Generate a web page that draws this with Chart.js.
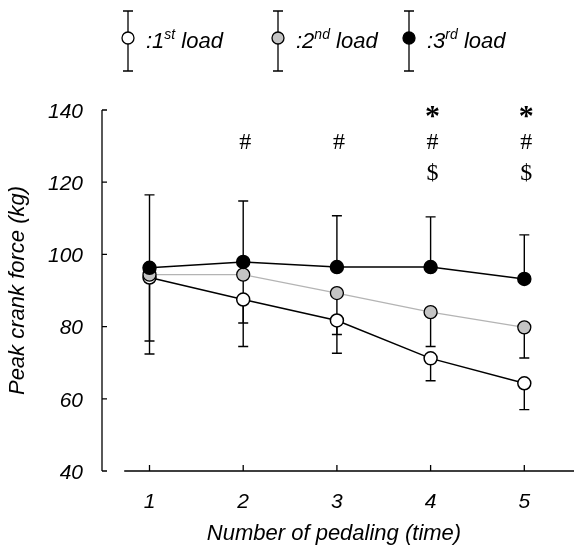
<!DOCTYPE html>
<html>
<head>
<meta charset="utf-8">
<script src="https://cdn.jsdelivr.net/npm/chart.js@4.4.0/dist/chart.umd.min.js"></script>
<style>
  html, body { margin: 0; padding: 0; background: #fff; }
  #wrap { width: 574px; height: 549px; }
</style>
</head>
<body>
<div id="wrap"><canvas id="chart"></canvas></div>
<script>
// x categories and y ticks
const pedalings = [1, 2, 3, 4, 5];
const yTicks = [40, 60, 80, 100, 120, 140];

// means and SD
const load1 = [93.6, 87.5, 81.7, 71.2, 64.3];
const load1Sd = [21.2, 13.0, 3.9, 6.2, 7.3];     // bars go down
const load2 = [94.4, 94.4, 89.3, 84.0, 79.8];
const load2Sd = [18.4, 13.4, 16.7, 9.5, 8.5];    // bars go down
const load3 = [96.3, 97.9, 96.5, 96.5, 93.2];
const load3Sd = [20.2, 16.9, 14.2, 13.9, 12.2];  // bars go up

// significance marks per pedaling ('*' row 0, '#' row 1, '$' row 2)
const sigMarks = ['', '#', '#', '*#$', '*#$'];
const sigRows = { '*': 0, '#': 1, '$': 2 };

const ordinals = ['st', 'nd', 'rd'];
const legendFills = ['#ffffff', '#c4c4c4', '#000000'];

const pts = arr => arr.map((v, i) => ({ x: pedalings[i], y: v }));

const figurePlugin = {
    id: 'figure',
    beforeDatasetsDraw(chart) {
        const { ctx } = chart;
        const xs = chart.scales.x, ys = chart.scales.y;
        ctx.save();
        ctx.strokeStyle = '#000';
        ctx.lineWidth = 1.4;
        chart.data.datasets.forEach(ds => {
            ds.sd.forEach((sd, i) => {
                const x = xs.getPixelForValue(pedalings[i]);
                const y0 = ys.getPixelForValue(ds.data[i].y);
                const y1 = ys.getPixelForValue(ds.data[i].y + ds.dir * sd);
                ctx.beginPath();
                ctx.moveTo(x, y0);
                ctx.lineTo(x, y1);
                ctx.moveTo(x - 5, y1);
                ctx.lineTo(x + 5, y1);
                ctx.stroke();
            });
        });
        ctx.restore();
    },
    afterDraw(chart) {
        const { ctx, chartArea } = chart;
        const xs = chart.scales.x, ys = chart.scales.y;
        ctx.save();
        ctx.strokeStyle = '#000';
        ctx.lineWidth = 1.3;

        // y axis with inward ticks
        ctx.beginPath();
        ctx.moveTo(chartArea.left, chartArea.top);
        ctx.lineTo(chartArea.left, chartArea.bottom);
        yTicks.forEach(v => {
            const y = ys.getPixelForValue(v);
            ctx.moveTo(chartArea.left, y);
            ctx.lineTo(chartArea.left + 5, y);
        });
        // x axis (detached from y axis) with upward ticks
        ctx.moveTo(xs.getPixelForValue(0.73), chartArea.bottom);
        ctx.lineTo(chart.width, chartArea.bottom);
        pedalings.forEach(p => {
            const x = xs.getPixelForValue(p);
            ctx.moveTo(x, chartArea.bottom);
            ctx.lineTo(x, chartArea.bottom - 6);
        });
        ctx.stroke();

        // significance marks
        ctx.fillStyle = '#000';
        ctx.textAlign = 'center';
        ctx.textBaseline = 'middle';
        const rowY = [chartArea.top + 4, chartArea.top + 33, chartArea.top + 64];
        sigMarks.forEach((marks, i) => {
            const x = xs.getPixelForValue(pedalings[i]) + 2;
            for (const m of marks) {
                ctx.font = m === '*'
                    ? 'bold 30px "Liberation Serif", "Times New Roman", serif'
                    : '24px "Liberation Serif", "Times New Roman", serif';
                ctx.fillText(m, x, rowY[sigRows[m]] + (m === '*' ? 3 : 0));
            }
        });

        // legend with error bar symbols
        const legendX = [128, 278, 409];
        const barTop = 11, barBottom = 71, midY = 38;
        legendX.forEach((lx, i) => {
            ctx.beginPath();
            ctx.moveTo(lx, barTop);
            ctx.lineTo(lx, barBottom);
            ctx.moveTo(lx - 5, barTop);
            ctx.lineTo(lx + 5, barTop);
            ctx.moveTo(lx - 5, barBottom);
            ctx.lineTo(lx + 5, barBottom);
            ctx.stroke();
            ctx.beginPath();
            ctx.arc(lx, midY, 6, 0, Math.PI * 2);
            ctx.fillStyle = legendFills[i];
            ctx.fill();
            ctx.stroke();

            ctx.fillStyle = '#000';
            ctx.textAlign = 'left';
            ctx.textBaseline = 'alphabetic';
            let tx = lx + 18;
            ctx.font = 'italic 22px "Liberation Sans", Arial, sans-serif';
            const head = ':' + (i + 1);
            ctx.fillText(head, tx, 48);
            tx += ctx.measureText(head).width;
            ctx.font = 'italic 14px "Liberation Sans", Arial, sans-serif';
            ctx.fillText(ordinals[i], tx, 39);
            tx += ctx.measureText(ordinals[i]).width;
            ctx.font = 'italic 22px "Liberation Sans", Arial, sans-serif';
            ctx.fillText(' load', tx, 48);
        });
        ctx.restore();
    }
};

new Chart(document.getElementById('chart'), {
    type: 'line',
    data: {
        datasets: [
            {
                label: '3rd load', data: pts(load3), sd: load3Sd, dir: 1, order: 0,
                borderColor: '#000', borderWidth: 1.5,
                pointBackgroundColor: '#000', pointBorderColor: '#000'
            },
            {
                label: '2nd load', data: pts(load2), sd: load2Sd, dir: -1, order: 1,
                borderColor: '#b4b4b4', borderWidth: 1.3,
                pointBackgroundColor: '#c4c4c4', pointBorderColor: '#000'
            },
            {
                label: '1st load', data: pts(load1), sd: load1Sd, dir: -1, order: 2,
                borderColor: '#000', borderWidth: 1.5,
                pointBackgroundColor: '#fff', pointBorderColor: '#000'
            }
        ]
    },
    options: {
        responsive: true,
        maintainAspectRatio: false,
        animation: false,
        elements: {
            line: { tension: 0 },
            point: { radius: 6.5, borderWidth: 1.3, hoverRadius: 6.5 }
        },
        layout: { padding: { top: 110, right: 0, left: 0, bottom: 0 } },
        plugins: { legend: { display: false }, tooltip: { enabled: false } },
        scales: {
            x: {
                type: 'linear',
                min: 0.493,
                max: 5.445,
                afterBuildTicks: s => { s.ticks = pedalings.map(v => ({ value: v })); },
                afterFit: s => { s.height = 78; s.paddingLeft = 0; s.paddingRight = 0; },
                grid: { display: false, drawTicks: false },
                border: { display: false },
                ticks: {
                    padding: 19,
                    color: '#000',
                    font: { family: '"Liberation Sans", Arial, sans-serif', size: 21, style: 'italic' }
                },
                title: {
                    display: true,
                    text: 'Number of pedaling (time)',
                    color: '#000',
                    padding: { top: 0, bottom: 2 },
                    font: { family: '"Liberation Sans", Arial, sans-serif', size: 22, style: 'italic' }
                }
            },
            y: {
                min: 40,
                max: 140,
                afterBuildTicks: s => { s.ticks = yTicks.map(v => ({ value: v })); },
                afterFit: s => { s.width = 102; },
                grid: { display: false, drawTicks: false },
                border: { display: false },
                ticks: {
                    padding: 19,
                    labelOffset: 2,
                    color: '#000',
                    font: { family: '"Liberation Sans", Arial, sans-serif', size: 21, style: 'italic' }
                },
                title: {
                    display: true,
                    text: 'Peak crank force (kg)',
                    color: '#000',
                    padding: { top: 5, bottom: 0 },
                    font: { family: '"Liberation Sans", Arial, sans-serif', size: 22, style: 'italic' }
                }
            }
        }
    },
    plugins: [figurePlugin]
});
</script>
</body>
</html>
